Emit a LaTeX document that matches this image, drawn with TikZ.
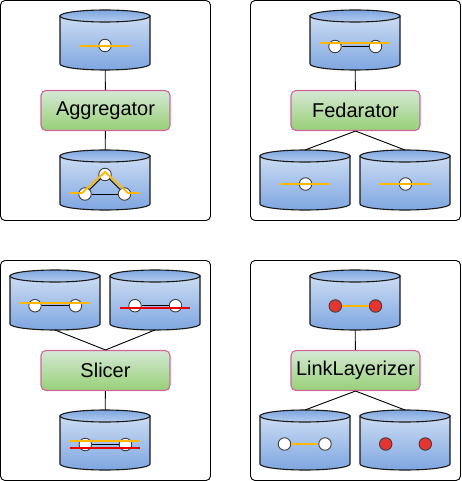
\documentclass[tikz,border=0pt]{standalone}
\usepackage{fontspec}
\setmainfont{Liberation Sans}
\usetikzlibrary{positioning}
\definecolor{dblight}{HTML}{CCDCF3}
\definecolor{dbdark}{HTML}{7EA6E0}
\definecolor{boxlight}{HTML}{D5E8D4}
\definecolor{boxdark}{HTML}{97D077}
\definecolor{boxline}{HTML}{D0659C}
\definecolor{xorange}{HTML}{FFB700}
\definecolor{xred}{HTML}{E60000}
\definecolor{xdot}{HTML}{E53530}
\tikzset{
	panel/.style={draw=black, line width=0.9pt, rounded corners=4.5pt},
	dbbody/.style={draw=black!90, line width=1.1pt, top color=dblight, bottom color=dbdark},
	dbtop/.style={draw=black!90, line width=1.1pt, top color=dbdark, bottom color=dblight!70!dbdark},
	dbnode/.style={minimum width=90pt, minimum height=60pt, inner sep=0pt, outer sep=0pt},
	tool/.style={draw=boxline, line width=1.1pt, rounded corners=5pt, top color=boxlight, bottom color=boxdark,
		minimum width=129pt, minimum height=40pt, inner sep=0pt, font=\fontsize{20}{24}\selectfont},
	wire/.style={draw=black, line width=0.9pt},
	dot/.style={circle, draw=black!75, line width=0.9pt, fill=white, minimum size=12.5pt, inner sep=0pt},
	reddot/.style={dot, fill=xdot},
	link/.style={draw=black, line width=0.9pt},
	ylink/.style={draw=xorange, line width=1.8pt},
	rlink/.style={draw=xred, line width=1.8pt},
}
\newcommand{\dbcyl}[3]{
	\begin{scope}[shift={(#2,#3)}]
		\path[dbbody] (-45,6) -- (-45,54) .. controls (-45,57.3) and (-24.75,60) .. (0,60)
			.. controls (24.75,60) and (45,57.3) .. (45,54) -- (45,6) -- cycle;
		\path[dbtop] (0,6) circle (45pt and 6pt);
		\node[dbnode] (#1) at (0,30) {};
	\end{scope}
}
\begin{document}
\begin{tikzpicture}[x=1pt, y=-1pt]
	\useasboundingbox (0,0) rectangle (461,481);

	% Aggregator
	\draw[panel] (0.5,0.5) rectangle (210.5,220.5);
	\dbcyl{A1}{105}{10}
	\dbcyl{A2}{105}{150}
	\node[tool] (A) at (105.5,110.5) {Aggregator};
	\draw[wire] (A1) -- (A);
	\draw[wire] (A) -- (A2);
	\node[dot] (A1a) at (105,45.5) {};
	\coordinate (Ast) at (80,45.8);
	\coordinate (Aen) at (130,45.8);
	\draw[ylink] (Ast) -- (Aen);
	\node[dot] (A2a) at (105,174.5) {};
	\node[dot] (A2b) at (85,194) {};
	\node[dot] (A2c) at (124.5,194) {};
	\draw[link] (A2a) -- (A2b);
	\draw[link] (A2a) -- (A2c);
	\draw[link] (A2b) -- (A2c);
	\coordinate (A2l) at (69.5,193);
	\coordinate (A2m) at (82,193);
	\coordinate (A2t) at (105,172);
	\coordinate (A2n) at (128,193);
	\coordinate (A2r) at (140,193);
	\draw[ylink] (A2l) -- (A2m) -- (A2t) -- (A2n) -- (A2r);

	% Fedarator
	\draw[panel] (250.5,0.5) rectangle (460.5,220.5);
	\dbcyl{F1}{355}{10}
	\dbcyl{F2}{305}{150}
	\dbcyl{F3}{405}{150}
	\node[tool] (F) at (355.5,110.5) {Fedarator};
	\draw[wire] (F1) -- (F);
	\draw[wire] (F.south) -- (F2.north);
	\draw[wire] (F.south) -- (F3.north);
	\node[dot] (F1a) at (335,46.5) {};
	\node[dot] (F1b) at (375.5,46.5) {};
	\draw[link] (F1a) -- (F1b);
	\coordinate (F1l) at (320,43);
	\coordinate (F1r) at (390,43);
	\draw[ylink] (F1l) -- (F1r);
	\node[dot] (F2a) at (305.5,184) {};
	\coordinate (F2l) at (280,184);
	\coordinate (F2r) at (330,184);
	\draw[ylink] (F2l) -- (F2r);
	\node[dot] (F3a) at (405.5,184) {};
	\coordinate (F3l) at (380,184);
	\coordinate (F3r) at (430,184);
	\draw[ylink] (F3l) -- (F3r);

	% Slicer
	\draw[panel] (0.5,260.5) rectangle (210.5,480.5);
	\dbcyl{S1}{55}{270}
	\dbcyl{S2}{155}{270}
	\dbcyl{S3}{105}{410}
	\node[tool] (S) at (105.5,370.5) {Slicer};
	\draw[wire] (S1.south) -- (S.north);
	\draw[wire] (S2.south) -- (S.north);
	\draw[wire] (S) -- (S3);
	\node[dot] (S1a) at (35,305.7) {};
	\node[dot] (S1b) at (75.5,305.7) {};
	\draw[link] (S1a) -- (S1b);
	\coordinate (S1l) at (20,302.7);
	\coordinate (S1r) at (90,302.7);
	\draw[ylink] (S1l) -- (S1r);
	\node[dot] (S2a) at (135,305.7) {};
	\node[dot] (S2b) at (175.5,305.7) {};
	\draw[link] (S2a) -- (S2b);
	\coordinate (S2l) at (120,308);
	\coordinate (S2r) at (190,308);
	\draw[rlink] (S2l) -- (S2r);
	\node[dot] (S3a) at (85.3,444.5) {};
	\node[dot] (S3b) at (125.5,444.5) {};
	\draw[link] (S3a) -- (S3b);
	\coordinate (S3l) at (70,440.7);
	\coordinate (S3r) at (140,440.7);
	\coordinate (S3s) at (70,448);
	\coordinate (S3t) at (140,448);
	\draw[ylink] (S3l) -- (S3r);
	\draw[rlink] (S3s) -- (S3t);

	% LinkLayerizer
	\draw[panel] (250.5,260.5) rectangle (460.5,480.5);
	\dbcyl{L1}{355}{270}
	\dbcyl{L2}{305}{410}
	\dbcyl{L3}{405}{410}
	\node[tool] (L) at (355.5,370.5) {LinkLayerizer};
	\draw[wire] (L1) -- (L);
	\draw[wire] (L.south) -- (L2.north);
	\draw[wire] (L.south) -- (L3.north);
	\node[reddot] (L1a) at (335.3,306) {};
	\node[reddot] (L1b) at (375.5,306) {};
	\draw[ylink] (L1a) -- (L1b);
	\node[dot] (L2a) at (284.5,444) {};
	\node[dot] (L2b) at (325,444) {};
	\draw[ylink] (L2a) -- (L2b);
	\node[reddot] (L3a) at (385.7,444) {};
	\node[reddot] (L3b) at (425.3,444) {};
\end{tikzpicture}
\end{document}
